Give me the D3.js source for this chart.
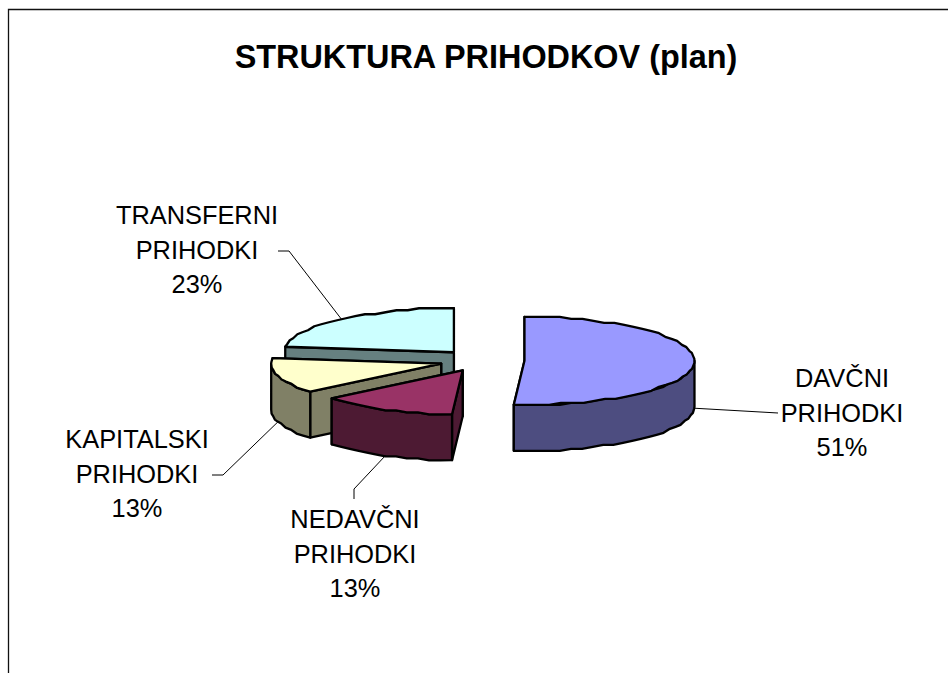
<!DOCTYPE html>
<html><head><meta charset="utf-8">
<style>html,body{margin:0;padding:0;background:#fff}svg{display:block}text{font-family:"Liberation Sans",Arial,sans-serif;fill:#000}</style>
<script src="https://cdn.jsdelivr.net/npm/d3@7/dist/d3.min.js"></script>
</head><body><div id="chart"></div>
<script>
const titleText = "STRUKTURA PRIHODKOV (plan)";
const categories = ["DAVČNI", "NEDAVČNI", "KAPITALSKI", "TRANSFERNI"];
const suffix = "PRIHODKI";
const values = [51, 13, 13, 23];
const topColors = ["#9999ff", "#993366", "#ffffcc", "#ccffff"];
const sideColors = ["#4d4d80", "#4d1a33", "#808066", "#668080"];
const labelCenters = [[842, 387], [355, 528], [137, 448], [197, 224]];
const leaderEnds = [[[778, 413]], [[354, 489], [354, 499]], [[223, 475], [212, 475]], [[289, 251], [278, 251]]];

const W = 948, H = 673;
const cx = 482, cy = 360.5, rx = 170, ry = 44, depth = 46, explode = 42.5, grid = 2;
const svg = d3.select("#chart").append("svg").attr("width", W).attr("height", H);

svg.append("path").attr("d", d3.line()([[8.5, H], [8.5, 9.5], [W, 9.5]]))
  .attr("fill", "none").attr("stroke", "#111").attr("stroke-width", 1.3);

svg.append("text").attr("x", 486).attr("y", 68).attr("text-anchor", "middle")
  .attr("font-size", 32.4).attr("font-weight", "bold").text(titleText);

const sx = d3.scaleLinear().domain([-1, 1]).range([-rx, rx]);
const sy = d3.scaleLinear().domain([-1, 1]).range([ry, -ry]);
const pie = d3.pie().sort(null).value(d => d)(values);
const line = d3.line();
const snap = v => Math.round(v / grid) * grid;

function geom(d) {
  const mid = (d.startAngle + d.endAngle) / 2;
  const ax = cx + explode * Math.sin(mid);
  const ay = cy - explode * Math.cos(mid) * ry / rx;
  const pt = a => [ax + sx(Math.sin(a)), ay + sy(Math.cos(a))];
  const arc = (a0, a1) => {
    const ts = d3.range(0, 1.0001, 1 / Math.max(2, Math.ceil((a1 - a0) / 0.07)));
    return ts.map((t, k) => {
      const p = pt(a0 + (a1 - a0) * t);
      return (k === 0 || k === ts.length - 1) ? p : [p[0], snap(p[1] - ay) + ay];
    });
  };
  return { mid, ax, ay, pt, arc };
}
const down = p => [p[0], p[1] + depth];

// painter's order: back slice first, right-hand slice last
const order = [3, 2, 1, 0];
order.forEach(i => {
  const d = pie[i], g = geom(d);
  const group = svg.append("g");
  const face = pts => group.append("path").attr("d", line(pts) + "Z")
    .attr("fill", sideColors[i]).attr("stroke", "#000").attr("stroke-width", 2.3)
    .attr("stroke-linejoin", "round");
  const apex = [g.ax, g.ay];
  [d.endAngle, d.startAngle].forEach(a => {
    const p = g.pt(a);
    face([apex, p, down(p), down(apex)]);
  });
  const lo = Math.max(d.startAngle, Math.PI / 2), hi = Math.min(d.endAngle, 3 * Math.PI / 2);
  if (hi > lo) {
    const a = g.arc(lo, hi);
    face(a.concat(a.map(down).reverse()));
  }
  group.append("path").attr("d", line([apex].concat(g.arc(d.startAngle, d.endAngle))) + "Z")
    .attr("fill", topColors[i]).attr("stroke", "#000").attr("stroke-width", 2.3)
    .attr("stroke-linejoin", "round");
});

// leader lines start on the slice rim at its mid-angle
pie.forEach((d, i) => {
  const g = geom(d);
  const p = g.pt(g.mid);
  const start = Math.cos(g.mid) < 0 || Math.abs(Math.cos(g.mid)) < 0.1 ? down(p) : p;
  svg.append("path").attr("d", line([start].concat(leaderEnds[i])))
    .attr("fill", "none").attr("stroke", "#000").attr("stroke-width", 1);
});

categories.forEach((c, i) => {
  [c, suffix, values[i] + "%"].forEach((s, k) => {
    svg.append("text").attr("x", labelCenters[i][0]).attr("y", labelCenters[i][1] + k * 34.5)
      .attr("text-anchor", "middle").attr("font-size", 25.4).text(s);
  });
});
</script></body></html>
